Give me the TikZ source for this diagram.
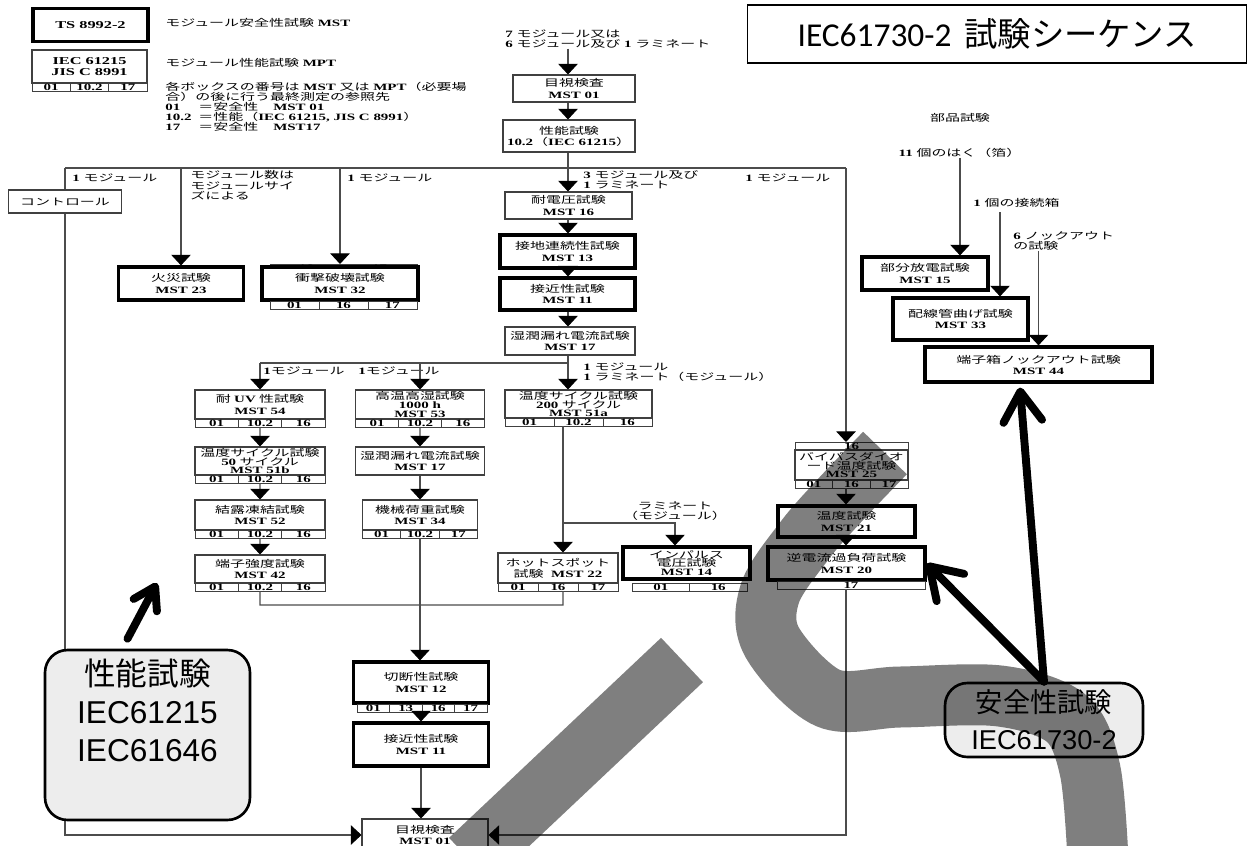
\documentclass[tikz,border=0pt]{standalone}
\usepackage{fontspec}
\setmainfont{Liberation Serif}[FakeStretch=1.55]
\newfontfamily\jp{Noto Sans CJK JP}[FakeStretch=1.55]
\newfontfamily\jps{Noto Sans CJK JP}
\newfontfamily\arsans{Liberation Sans}
\newfontfamily\calib{Carlito}
\usepackage{tikz}
\usetikzlibrary{arrows.meta,positioning}

\newcommand{\jt}[1]{{\jp #1}}
\newcommand{\tightlines}{\fontsize{5.5}{4.9}\selectfont\lineskiplimit=-5pt\relax}
% three result cells under a box: name, start, cell width, texts
\newcommand{\cellrow}[6]{%
  \node[cell, minimum width=#3, anchor=north west] (#1-a) at #2 {#4};
  \node[cell, minimum width=#3, anchor=west] (#1-b) at (#1-a.east) {#5};
  \node[cell, minimum width=#3, anchor=west] (#1-c) at (#1-b.east) {#6};}

\begin{document}
\begin{tikzpicture}[x=0.02cm, y=-0.02cm,
    box/.style={draw=black!75, line width=0.6pt, fill=white, align=center, inner sep=0pt, font=\fontsize{5.5}{6.3}\selectfont},
    thickbox/.style={box, draw=black, line width=1.8pt},
    tight/.style={font=\tightlines},
    cell/.style={draw=black!75, line width=0.5pt, fill=white, inner sep=0pt, outer sep=0pt, minimum height=0.16cm, font=\bfseries\fontsize{5.5}{5.5}\selectfont},
    lbl/.style={inner sep=0pt, align=left, font=\fontsize{5.5}{6}\selectfont},
    line/.style={draw=black!70, line width=0.6pt},
    flow/.style={line, -{Triangle[width=11pt,length=6pt,color=black]}},
    note/.style={draw=black, line width=1.5pt, rounded corners=0.45cm, fill=black!7, align=center, inner sep=0pt},
    bigarrow/.style={line width=4.5pt, line cap=round, -{Straight Barb[length=17pt,width=22pt,round]}},
    band/.style={line width=1.22cm, draw=black, opacity=0.5}]
\useasboundingbox (0,0) rectangle (1250,845);

% legend
\node[thickbox, minimum width=2.3cm, minimum height=0.66cm, font=\bfseries\fontsize{6}{6}\selectfont] (ts) at (90.5,25) {TS 8992-2};
\node[box, minimum width=2.3cm, minimum height=0.66cm, font=\bfseries\fontsize{6}{6.5}\selectfont] (iec) at (89.5,66.5) {IEC 61215\\JIS C 8991};
\cellrow{iec}{(32,83)}{0.767cm}{01}{10.2}{17}
\node[lbl, anchor=west] (lgmst) at (165,23) {\jt{モジュール安全性試験}\textbf{ MST}};
\node[lbl, anchor=west] (lgmpt) at (165,63) {\jt{モジュール性能試験}\textbf{ MPT}};
\node[lbl, anchor=north west, font=\fontsize{5.5}{5.7}\selectfont] (lgkey) at (165,82) {%
  \jt{各ボックスの番号は}\textbf{ MST }\jt{又は}\textbf{ MPT}\jt{（必要場}\\
  \jt{合）の後に行う最終測定の参照先}\\
  \makebox[0.66cm][l]{\textbf{01}}\jt{＝安全性}\hspace{0.3cm}\textbf{MST 01}\\
  \makebox[0.66cm][l]{\textbf{10.2}}\jt{＝性能（}\textbf{IEC 61215, JIS C 8991}\jt{）}\\
  \makebox[0.66cm][l]{\textbf{17}}\jt{＝安全性}\hspace{0.3cm}\textbf{MST17}};

% main sequence
\node[lbl, anchor=north west] (entry) at (505,29) {\textbf{7} \jt{モジュール又は}\\\textbf{6} \jt{モジュール及び}\textbf{ 1 }\jt{ラミネート}};
\node[box, minimum width=2.44cm, minimum height=0.54cm] (v1) at (574,88.5) {\jt{目視検査}\\\textbf{MST 01}};
\node[box, minimum width=2.64cm, minimum height=0.64cm] (perf) at (569,136) {\jt{性能試験}\\\textbf{10.2}\jt{（}\textbf{IEC 61215}\jt{）}};
\node[box, minimum width=2.54cm, minimum height=0.54cm] (hv) at (568.5,205.5) {\jt{耐電圧試験}\\\textbf{MST 16}};
\node[thickbox, minimum width=2.7cm, minimum height=0.66cm] (gc) at (567.5,251.5) {\jt{接地連続性試験}\\\textbf{MST 13}};
\node[thickbox, minimum width=2.7cm, minimum height=0.64cm] (ac1) at (567.5,294) {\jt{接近性試験}\\\textbf{MST 11}};
\node[box, minimum width=2.6cm, minimum height=0.56cm] (wl1) at (570,341) {\jt{湿潤漏れ電流試験}\\\textbf{MST 17}};

% top branches
\node[thickbox, minimum width=2.5cm, minimum height=0.66cm] (fire) at (181,283.5) {\jt{火災試験}\\\textbf{MST 23}};
\node[cell, minimum width=1.44cm, anchor=south west] (shock-t1) at (270,272) {16};
\node[cell, minimum width=1.5cm, anchor=west] (shock-t2) at (shock-t1.east) {17};
\node[thickbox, minimum width=3.12cm, minimum height=0.66cm] (shock) at (340,283.5) {\jt{衝撃破壊試験}\\\textbf{MST 32}};
\cellrow{shock}{(270,301)}{0.98cm}{01}{16}{17}

% left column
\node[box, minimum width=2.6cm, minimum height=0.58cm] (uv) at (260,404.5) {\jt{耐 }\textbf{UV}\jt{ 性試験}\\\textbf{MST 54}};
\cellrow{uv}{(195,419)}{0.867cm}{01}{10.2}{16}
\node[box, tight, minimum width=2.6cm, minimum height=0.56cm] (tc50) at (260,461) {\jt{温度サイクル試験}\\\textbf{50}\jt{ サイクル}\\\textbf{MST 51b}};
\cellrow{tc50}{(195,475)}{0.867cm}{01}{10.2}{16}
\node[box, minimum width=2.6cm, minimum height=0.6cm] (dew) at (260,515) {\jt{結露凍結試験}\\\textbf{MST 52}};
\cellrow{dew}{(195,530)}{0.867cm}{01}{10.2}{16}
\node[box, minimum width=2.6cm, minimum height=0.56cm] (term) at (260,569) {\jt{端子強度試験}\\\textbf{MST 42}};
\cellrow{term}{(195,583)}{0.867cm}{01}{10.2}{16}

% second column
\node[box, tight, minimum width=2.58cm, minimum height=0.58cm] (dh) at (420,404.5) {\jt{高温高湿試験}\\\textbf{1000 h}\\\textbf{MST 53}};
\cellrow{dh}{(355.5,419)}{0.86cm}{01}{10.2}{16}
\node[box, minimum width=2.58cm, minimum height=0.56cm] (wl2) at (420,461) {\jt{湿潤漏れ電流試験}\\\textbf{MST 17}};
\node[box, minimum width=2.3cm, minimum height=0.6cm] (ml) at (420,515) {\jt{機械荷重試験}\\\textbf{MST 34}};
\cellrow{ml}{(362.5,530)}{0.767cm}{01}{10.2}{17}

% centre column
\node[box, tight, minimum width=2.94cm, minimum height=0.56cm] (tc200) at (578.5,404) {\jt{温度サイクル試験}\\\textbf{200}\jt{ サイクル}\\\textbf{MST 51a}};
\cellrow{tc200}{(505,418)}{0.98cm}{01}{10.2}{16}
\node[box, minimum width=2.4cm, minimum height=0.6cm] (hs) at (558,568) {\jt{ホットスポット}\\\jt{試験}\textbf{\ \ MST 22}};
\cellrow{hs}{(498,583)}{0.8cm}{01}{16}{17}
\node[thickbox, tight, minimum width=2.54cm, minimum height=0.64cm] (imp) at (686.5,563) {\jt{インパルス}\\\jt{電圧試験}\\\textbf{MST 14}};
\node[cell, minimum width=1.15cm, anchor=north west] (imp-a) at (632,583) {01};
\node[cell, minimum width=1.15cm, anchor=west] (imp-b) at (imp-a.east) {16};

% bottom
\node[thickbox, minimum width=2.7cm, minimum height=0.82cm] (jc) at (421,682.5) {\jt{切断性試験}\\\textbf{MST 12}};
\node[cell, minimum width=0.65cm, anchor=north west] (jc-a) at (357,704) {01};
\node[cell, minimum width=0.65cm, anchor=west] (jc-b) at (jc-a.east) {13};
\node[cell, minimum width=0.65cm, anchor=west] (jc-c) at (jc-b.east) {16};
\node[cell, minimum width=0.65cm, anchor=west] (jc-d) at (jc-c.east) {17};
\node[thickbox, minimum width=2.7cm, minimum height=0.86cm] (ac2) at (421,744.5) {\jt{接近性試験}\\\textbf{MST 11}};
\node[box, minimum width=2.52cm, minimum height=0.64cm] (v2) at (425,835) {\jt{目視検査}\\\textbf{MST 01}};

% right column
\node[cell, minimum width=2.26cm, anchor=south west] (byp-t) at (795,450) {16};
\node[box, tight, minimum width=2.26cm, minimum height=0.6cm] (byp) at (851.5,465) {\jt{バイパスダイオ}\\\jt{ード温度試験}\\\textbf{MST 25}};
\cellrow{byp}{(795,480)}{0.753cm}{01}{16}{17}
\node[thickbox, minimum width=2.74cm, minimum height=0.62cm] (temp) at (846.5,521.5) {\jt{温度試験}\\\textbf{MST 21}};
\node[thickbox, minimum width=3.14cm, minimum height=0.66cm] (rev) at (846.5,563.5) {\jt{逆電流過負荷試験}\\\textbf{MST 20}};
\node[cell, minimum width=2.96cm, anchor=north west] (rev-a) at (777,581) {17};

% component tests
\node[lbl] (parts) at (960,118) {\jt{部品試験}};
\node[lbl] (foil) at (960,153) {\textbf{11} \jt{個のはく（箔）}};
\node[lbl, anchor=west] (jbox) at (973,203) {\textbf{1} \jt{個の接続箱}};
\node[lbl, anchor=north west] (knock) at (1013,231) {\textbf{6} \jt{ノックアウト}\\\jt{の試験}};
\node[thickbox, minimum width=2.52cm, minimum height=0.66cm] (pd) at (925,273.5) {\jt{部分放電試験}\\\textbf{MST 15}};
\node[thickbox, minimum width=2.7cm, minimum height=0.84cm] (cb) at (960.5,319) {\jt{配線管曲げ試験}\\\textbf{MST 33}};
\node[thickbox, minimum width=4.54cm, minimum height=0.7cm] (ko) at (1038.5,364.5) {\jt{端子箱ノックアウト試験}\\\textbf{MST 44}};

% labels on the branches
\node[lbl, anchor=west] (m1) at (72,178) {\textbf{1} \jt{モジュール}};
\node[lbl, anchor=north west] (msize) at (190,170) {\jt{モジュール数は}\\\jt{モジュールサイ}\\\jt{ズによる}};
\node[lbl, anchor=west] (m2) at (347,178) {\textbf{1} \jt{モジュール}};
\node[lbl, anchor=north west] (m3) at (583,170) {\textbf{3} \jt{モジュール及び}\\\textbf{1} \jt{ラミネート}};
\node[lbl, anchor=west] (m4) at (745,178) {\textbf{1} \jt{モジュール}};
\node[lbl, anchor=west] (l1) at (263,371) {\textbf{1}\jt{モジュール}};
\node[lbl, anchor=west] (l2) at (358,371) {\textbf{1}\jt{モジュール}};
\node[lbl, anchor=north west] (l3) at (583,362) {\textbf{1} \jt{モジュール}\\\textbf{1} \jt{ラミネート（モジュール）}};
\node[lbl, align=center, anchor=south] (lam) at (675,521) {\jt{ラミネート}\\\jt{（モジュール）}};

% connectors
\coordinate (ccol) at (568,0);
\coordinate (rcol) at (846,0);
\coordinate (hcol) at (563,0);
\coordinate (tl) at (65,168);
\coordinate (tr) at (846,168);
\draw[line] (tl) -- (tr);
\draw[flow] (tl) -- (tl |- v2.west) -- (v2.west);
\draw[flow] (tl -| fire) -- (fire.north);
\draw[flow] (tl -| shock) -- (shock |- shock-t1.north);
\draw[flow] (tr) -- (tr |- byp-t.north);
\draw[flow] (entry.south -| ccol) -- (v1.north -| ccol);
\draw[flow] (v1.south -| ccol) -- (perf.north -| ccol);
\draw[flow] (perf.south -| ccol) -- (hv.north -| ccol);
\draw[flow] (hv.south -| ccol) -- (gc.north -| ccol);
\draw[flow] (gc.south -| ccol) -- (ac1.north -| ccol);
\draw[flow] (ac1.south -| ccol) -- (wl1.north -| ccol);
\draw[flow] (wl1.south -| ccol) -- (tc200.north -| ccol);
\coordinate (jn) at (568,363);
\draw[line] (jn) -- (jn -| uv);
\draw[flow] (jn -| uv) -- (uv.north);
\draw[flow] (jn -| dh) -- (dh.north);
\draw[flow] (uv-b.south) -- (tc50.north);
\draw[flow] (tc50-b.south) -- (dew.north);
\draw[flow] (dew-b.south) -- (term.north);
\draw[flow] (dh-b.south) -- (wl2.north);
\draw[flow] (wl2.south) -- (ml.north);
\draw[flow] (ml-b.south) -- (ml-b.south |- jc.north);
\draw[flow] (jc-b.south -| ac2) -- (ac2.north);
\draw[flow] (ac2.south) -- (ac2.south |- v2.north);
\draw[flow] (tc200-b.south -| hcol) -- (hs.north -| hcol);
\coordinate (jn2) at (563,523);
\coordinate (jn3) at (675,523);
\draw[flow] (jn2) -- (jn3) -- (jn3 |- imp.north);
\coordinate (jn4) at (260,605);
\draw[line] (term-b.south) -- (jn4) -- (jn4 -| hcol) -- (hcol |- hs-b.south);
\draw[flow] (byp-b.south -| rcol) -- (temp.north -| rcol);
\draw[flow] (temp.south -| rcol) -- (rev.north -| rcol);
\draw[flow] (rev-a.south -| rcol) -- (rcol |- v2.east) -- (v2.east);
\draw[flow] (foil.south) -- (foil.south |- pd.north);
\coordinate (jline) at (1000,212);
\draw[flow] (jline) -- (jline |- cb.north);
\draw[flow] (knock.south -| ko.north) -- (ko.north);

\node[box, minimum width=2.26cm, minimum height=0.46cm] (ctrl) at (65,201.5) {\jt{コントロール}};

% overlays
\node[draw=black, line width=0.6pt, fill=white, minimum width=10cm, minimum height=1.16cm, inner sep=0pt, font=\fontsize{19}{22}\selectfont] (title) at (997,34) {{\calib IEC61730-2} {\jps 試験シーケンス}};
\node[note, minimum width=4.1cm, minimum height=3.4cm, font=\fontsize{18}{21.5}\selectfont\arsans] (perfnote) at (147.5,735) {{\jps 性能試験}\\IEC61215\\IEC61646\\\strut};
\node[note, minimum width=3.96cm, minimum height=1.48cm, font=\fontsize{15.5}{21}\selectfont\arsans] (safenote) at (1044,720) {{\jps 安全性試験}\\IEC61730-2};
\coordinate (perftip) at (157,583);
\draw[bigarrow, -{Straight Barb[length=12pt,width=15pt,round]}] ([shift={(-20,-10)}]perfnote.north) -- (perftip);
\draw[bigarrow] (safenote.north) -- ([xshift=-0.37cm,yshift=-0.08cm]ko.south);
\draw[bigarrow] (safenote.north) -- (rev.east);

\draw[band] plot[smooth, tension=0.55] coordinates {(885,453) (840,500) (805,540) (770,593) (772,642) (828,698) (900,697) (1000,696) (1066,718) (1090,770) (1098,860)};
\draw[band] (682,660) -- (470,860);
\end{tikzpicture}
\end{document}
